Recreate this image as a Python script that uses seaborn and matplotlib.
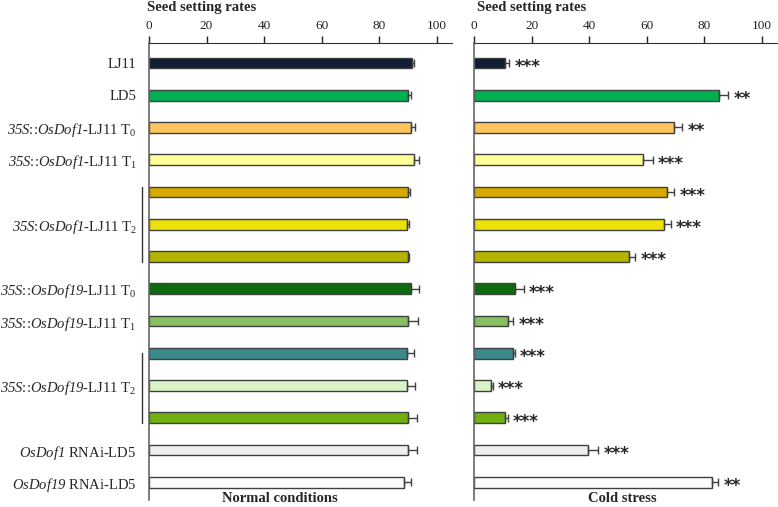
import numpy as np
import pandas as pd
import matplotlib
matplotlib.use('Agg')
import matplotlib.pyplot as plt
import seaborn as sns

# rows from top to bottom; the three T2 lines of each construct share one label
lines = ['LJ11', 'LD5', 'Dof1 T0', 'Dof1 T1', 'Dof1 T2a', 'Dof1 T2b', 'Dof1 T2c',
         'Dof19 T0', 'Dof19 T1', 'Dof19 T2a', 'Dof19 T2b', 'Dof19 T2c',
         'Dof1 RNAi', 'Dof19 RNAi']
# \mathsf is mapped to the italic serif below (mathtext \mathit keeps digits upright)
tick_labels = ['LJ11', 'LD5',
               r'$\mathsf{35S}$::$\mathsf{OsDof1}$-LJ11 T$_0$',
               r'$\mathsf{35S}$::$\mathsf{OsDof1}$-LJ11 T$_1$',
               '', r'$\mathsf{35S}$:$\mathsf{OsDof1}$-LJ11 T$_2$', '',
               r'$\mathsf{35S}$::$\mathsf{OsDof19}$-LJ11 T$_0$',
               r'$\mathsf{35S}$::$\mathsf{OsDof19}$-LJ11 T$_1$',
               '', r'$\mathsf{35S}$::$\mathsf{OsDof19}$-LJ11 T$_2$', '',
               r'$\mathsf{OsDof1}$ RNAi-LD5',
               r'$\mathsf{OsDof19}$ RNAi-LD5']

normal_rate = [91.4, 90.0, 91.0, 92.0, 90.0, 89.7, 90.0, 91.2, 90.0, 89.7, 89.7, 90.0, 90.0, 88.6]
normal_err = [0.7, 1.0, 1.5, 2.0, 0.8, 0.8, 0.3, 2.5, 3.5, 2.3, 2.7, 3.0, 3.0, 2.5]
cold_rate = [10.8, 85.1, 69.4, 58.8, 67.1, 66.0, 53.9, 14.4, 11.9, 13.4, 6.0, 10.8, 39.6, 82.6]
cold_err = [1.5, 3.2, 2.9, 3.3, 2.5, 2.3, 2.2, 2.8, 1.7, 0.8, 0.5, 0.9, 3.6, 2.3]
cold_sig = ['***', '**', '**', '***', '***', '***', '***', '***', '***', '***', '***', '***', '***', '**']

colors = ['#121d33', '#00b050', '#ffc55f', '#ffff99', '#d6aa00', '#ebe20c', '#b5b500',
          '#0f6b0f', '#86c060', '#3a8a8c', '#d9f5c8', '#70b010', '#eeeeee', '#fcfcfc']

sns.set_style('white')
plt.rcParams['font.family'] = ['Liberation Serif', 'DejaVu Serif']
plt.rcParams['mathtext.fontset'] = 'custom'
plt.rcParams['mathtext.rm'] = 'Liberation Serif'
plt.rcParams['mathtext.it'] = 'Liberation Serif:italic'
plt.rcParams['mathtext.sf'] = 'Liberation Serif:italic'
plt.rcParams['mathtext.bf'] = 'Liberation Serif:bold'

df = pd.DataFrame({'line': lines, 'normal': normal_rate, 'cold': cold_rate})

fig = plt.figure(figsize=(7.78, 5.07), dpi=100)
ax1 = fig.add_axes([0.1915, 0.0138, 0.3895, 0.9014])
ax2 = fig.add_axes([0.6093, 0.0138, 0.3895, 0.9014])

y = np.arange(len(lines))
panels = [(ax1, 'normal', normal_err, 'Normal conditions', 45.5, 0.1895),
          (ax2, 'cold', cold_err, 'Cold stress', 51.6, 0.6125)]
for ax, col, err, name, name_x, title_x in panels:
    sns.barplot(data=df, x=col, y='line', hue='line', palette=colors, order=lines,
                hue_order=lines, orient='h', width=0.34, edgecolor='#404040',
                linewidth=1, saturation=1, legend=False, errorbar=None, ax=ax)
    ax.errorbar(df[col], y, xerr=[np.zeros(len(y)), err], fmt='none', ecolor='#404040',
                elinewidth=1, capsize=3, capthick=1)
    ax.set_xlim(0, 105.3)
    ax.set_ylim(13.55, -0.62)
    ax.xaxis.tick_top()
    ax.set_xticks(range(0, 101, 20))
    ax.tick_params(axis='x', direction='out', length=5, width=1, labelsize=9.5, pad=3,
                   top=True, bottom=False, colors='#222222')
    ax.set_xlabel('')
    ax.set_ylabel('')
    for s in ['right', 'bottom']:
        ax.spines[s].set_visible(False)
    ax.spines['top'].set_color('#333333')
    ax.spines['left'].set_color('#666666')
    ax.spines['left'].set_linewidth(1.2)
    fig.text(title_x, 0.999, 'Seed setting rates', ha='left', va='top', fontsize=10.5,
             fontweight='bold')
    ax.text(name_x, 13.72, name, ha='center', va='bottom', fontsize=10.5,
            fontweight='bold', clip_on=False)

ax1.set_yticks(y)
ax1.set_yticklabels(tick_labels, fontsize=10.5)
ax1.tick_params(axis='y', length=0, pad=9)
ax2.set_yticks([])

# brackets joining the T2 lines
ax1.plot([-2.4, -2.4], [3.83, 6.17], color='#333333', lw=1, clip_on=False)
ax1.plot([-2.4, -2.4], [9.0, 11.17], color='#333333', lw=1, clip_on=False)

for i in range(len(lines)):
    ax2.text(cold_rate[i] + cold_err[i] + 1.8, i + 0.12, cold_sig[i], ha='left',
             va='center', fontsize=12, fontweight='bold', family='DejaVu Sans')

fig.savefig('out.png', dpi=100)
